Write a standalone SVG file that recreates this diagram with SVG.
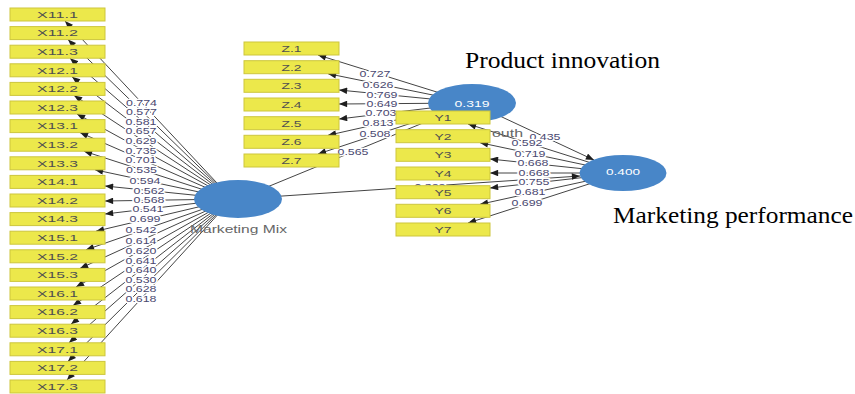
<svg xmlns="http://www.w3.org/2000/svg" width="855" height="394" viewBox="0 0 855 394">
  <style>
    .box { fill: #ece84b; stroke: #cdc63c; stroke-width: 1; }
    .bt { font-family: "Liberation Sans", Arial, sans-serif; font-size: 9px; fill: #505050; text-anchor: middle; }
    .ln { stroke: #444; stroke-width: 1; fill: none; }
    .cf { font-family: "Liberation Sans", Arial, sans-serif; font-size: 9px; fill: #4a4870; text-anchor: middle; stroke: #fff; stroke-width: 2.6; paint-order: stroke; stroke-linejoin: round; }
    .lv { fill: #4886c8; }
    .lvt { font-family: "Liberation Sans", Arial, sans-serif; font-size: 9.5px; fill: #fff; text-anchor: middle; }
    .lvn { font-family: "Liberation Sans", Arial, sans-serif; font-size: 10px; fill: #666; }
    .ttl { font-family: "Liberation Serif", "Times New Roman", serif; font-size: 23px; fill: #000; }
  </style>
  <defs>
    <marker id="ah" viewBox="0 0 10 8" refX="10" refY="4" markerWidth="9" markerHeight="6.5" markerUnits="userSpaceOnUse" orient="auto">
      <path d="M0,0 L10,4 L0,8 z" fill="#1e1e1e"/>
    </marker>
  </defs>

  <!-- connectors: outer loadings and structural paths -->
  <g id="connectors">
    <g marker-end="url(#ah)" class="ln">
      <!-- Marketing Mix -> X indicators -->
      <line x1="232" y1="199" x2="65" y2="21"/>
      <line x1="232" y1="199" x2="68" y2="39.6"/>
      <line x1="232" y1="199" x2="70" y2="58.2"/>
      <line x1="232" y1="199" x2="72" y2="76.8"/>
      <line x1="232" y1="199" x2="74" y2="95.4"/>
      <line x1="232" y1="199" x2="77" y2="114"/>
      <line x1="232" y1="199" x2="80" y2="132.6"/>
      <line x1="232" y1="199" x2="84" y2="151.2"/>
      <line x1="232" y1="199" x2="95" y2="169.8"/>
      <line x1="232" y1="199" x2="105" y2="186"/>
      <line x1="232" y1="199" x2="105" y2="201"/>
      <line x1="232" y1="199" x2="105" y2="214"/>
      <line x1="232" y1="199" x2="96" y2="231.2"/>
      <line x1="232" y1="199" x2="86" y2="249.8"/>
      <line x1="232" y1="199" x2="80" y2="268.4"/>
      <line x1="232" y1="199" x2="76" y2="287"/>
      <line x1="232" y1="199" x2="73" y2="305.6"/>
      <line x1="232" y1="199" x2="71" y2="324.2"/>
      <line x1="232" y1="199" x2="69" y2="342.8"/>
      <line x1="232" y1="199" x2="68" y2="361.4"/>
      <line x1="232" y1="199" x2="67" y2="380"/>
      <!-- Product innovation -> Z indicators -->
      <line x1="472" y1="103" x2="318" y2="55"/>
      <line x1="472" y1="103" x2="328" y2="73.7"/>
      <line x1="472" y1="103" x2="339" y2="90"/>
      <line x1="472" y1="103" x2="339" y2="104"/>
      <line x1="472" y1="103" x2="339" y2="119"/>
      <line x1="472" y1="103" x2="328" y2="135.3"/>
      <line x1="472" y1="103" x2="318" y2="154"/>
      <!-- Marketing performance -> Y indicators -->
      <line x1="623" y1="173" x2="468" y2="124"/>
      <line x1="623" y1="173" x2="480" y2="142.7"/>
      <line x1="623" y1="173" x2="490" y2="159"/>
      <line x1="623" y1="173" x2="490" y2="173"/>
      <line x1="623" y1="173" x2="490" y2="188"/>
      <line x1="623" y1="173" x2="480" y2="204.3"/>
      <line x1="623" y1="173" x2="468" y2="223"/>
      <!-- structural paths -->
      <line x1="238" y1="199" x2="440" y2="116"/>
      <line x1="238" y1="199" x2="580" y2="176"/>
      <line x1="472" y1="103" x2="594" y2="160"/>
    </g>

    <!-- loading / path coefficients -->
    <g class="cf">
      <text x="141.5" y="106.2" textLength="31" lengthAdjust="spacingAndGlyphs">0.774</text>
      <text x="141.5" y="115.2" textLength="31" lengthAdjust="spacingAndGlyphs">0.577</text>
      <text x="141" y="125.2" textLength="31" lengthAdjust="spacingAndGlyphs">0.581</text>
      <text x="141" y="134.2" textLength="31" lengthAdjust="spacingAndGlyphs">0.657</text>
      <text x="141" y="143.7" textLength="31" lengthAdjust="spacingAndGlyphs">0.629</text>
      <text x="141" y="153.7" textLength="31" lengthAdjust="spacingAndGlyphs">0.735</text>
      <text x="141" y="163.2" textLength="31" lengthAdjust="spacingAndGlyphs">0.701</text>
      <text x="141.5" y="173.2" textLength="31" lengthAdjust="spacingAndGlyphs">0.535</text>
      <text x="145" y="183.7" textLength="31" lengthAdjust="spacingAndGlyphs">0.594</text>
      <text x="149" y="193.7" textLength="31" lengthAdjust="spacingAndGlyphs">0.562</text>
      <text x="149" y="203.2" textLength="31" lengthAdjust="spacingAndGlyphs">0.568</text>
      <text x="148" y="212.2" textLength="31" lengthAdjust="spacingAndGlyphs">0.541</text>
      <text x="145" y="222.2" textLength="31" lengthAdjust="spacingAndGlyphs">0.699</text>
      <text x="141" y="233.2" textLength="31" lengthAdjust="spacingAndGlyphs">0.542</text>
      <text x="141" y="244.2" textLength="31" lengthAdjust="spacingAndGlyphs">0.614</text>
      <text x="141" y="254.2" textLength="31" lengthAdjust="spacingAndGlyphs">0.620</text>
      <text x="141" y="263.7" textLength="31" lengthAdjust="spacingAndGlyphs">0.641</text>
      <text x="141" y="273.2" textLength="31" lengthAdjust="spacingAndGlyphs">0.640</text>
      <text x="141" y="283.2" textLength="31" lengthAdjust="spacingAndGlyphs">0.530</text>
      <text x="141" y="292.2" textLength="31" lengthAdjust="spacingAndGlyphs">0.628</text>
      <text x="141" y="302.2" textLength="31" lengthAdjust="spacingAndGlyphs">0.618</text>

      <text x="375" y="77.2" textLength="31" lengthAdjust="spacingAndGlyphs">0.727</text>
      <text x="378" y="88.2" textLength="31" lengthAdjust="spacingAndGlyphs">0.626</text>
      <text x="382" y="98.2" textLength="31" lengthAdjust="spacingAndGlyphs">0.769</text>
      <text x="382" y="107.2" textLength="31" lengthAdjust="spacingAndGlyphs">0.649</text>
      <text x="381" y="116.2" textLength="31" lengthAdjust="spacingAndGlyphs">0.703</text>
      <text x="378" y="126.2" textLength="31" lengthAdjust="spacingAndGlyphs">0.813</text>
      <text x="375" y="137.2" textLength="31" lengthAdjust="spacingAndGlyphs">0.508</text>
      <text x="353" y="155.2" textLength="31" lengthAdjust="spacingAndGlyphs">0.565</text>
      <text x="430" y="190.2" textLength="31" lengthAdjust="spacingAndGlyphs">0.322</text>

      <text x="545" y="140.2" textLength="31" lengthAdjust="spacingAndGlyphs">0.435</text>
      <text x="527" y="146.2" textLength="31" lengthAdjust="spacingAndGlyphs">0.592</text>
      <text x="530" y="157.2" textLength="31" lengthAdjust="spacingAndGlyphs">0.719</text>
      <text x="533" y="166.2" textLength="31" lengthAdjust="spacingAndGlyphs">0.668</text>
      <text x="534" y="176.2" textLength="31" lengthAdjust="spacingAndGlyphs">0.668</text>
      <text x="534" y="185.2" textLength="31" lengthAdjust="spacingAndGlyphs">0.755</text>
      <text x="530" y="195.2" textLength="31" lengthAdjust="spacingAndGlyphs">0.681</text>
      <text x="527" y="206.2" textLength="31" lengthAdjust="spacingAndGlyphs">0.699</text>
    </g>
  </g>

  <!-- latent variables -->
  <g id="marketing-mix">
    <ellipse class="lv" cx="238" cy="199" rx="44" ry="19"/>
    <text class="lvn" x="238.5" y="232.5" text-anchor="middle" textLength="97" lengthAdjust="spacingAndGlyphs">Marketing Mix</text>
  </g>
  <g id="product-innovation">
    <ellipse class="lv" cx="472" cy="103" rx="44" ry="19"/>
    <text class="lvt" x="472" y="106.5" textLength="35" lengthAdjust="spacingAndGlyphs">0.319</text>
    <text class="lvn" x="492" y="136.5" textLength="31" lengthAdjust="spacingAndGlyphs">outh</text>
  </g>
  <g id="marketing-performance">
    <ellipse class="lv" cx="623" cy="173" rx="43.5" ry="18"/>
    <text class="lvt" x="623" y="174.5" textLength="34" lengthAdjust="spacingAndGlyphs">0.400</text>
  </g>

  <!-- indicators of Marketing Mix -->
  <g id="x-indicators">
    <g id="X11.1"><rect class="box" x="10" y="8" width="95" height="13"/><text class="bt" x="57.5" y="17.8" textLength="41" lengthAdjust="spacingAndGlyphs">X11.1</text></g>
    <g id="X11.2"><rect class="box" x="10" y="26.6" width="95" height="13"/><text class="bt" x="57.5" y="36.4" textLength="41" lengthAdjust="spacingAndGlyphs">X11.2</text></g>
    <g id="X11.3"><rect class="box" x="10" y="45.2" width="95" height="13"/><text class="bt" x="57.5" y="55" textLength="41" lengthAdjust="spacingAndGlyphs">X11.3</text></g>
    <g id="X12.1"><rect class="box" x="10" y="63.8" width="95" height="13"/><text class="bt" x="57.5" y="73.6" textLength="41" lengthAdjust="spacingAndGlyphs">X12.1</text></g>
    <g id="X12.2"><rect class="box" x="10" y="82.4" width="95" height="13"/><text class="bt" x="57.5" y="92.2" textLength="41" lengthAdjust="spacingAndGlyphs">X12.2</text></g>
    <g id="X12.3"><rect class="box" x="10" y="101" width="95" height="13"/><text class="bt" x="57.5" y="110.8" textLength="41" lengthAdjust="spacingAndGlyphs">X12.3</text></g>
    <g id="X13.1"><rect class="box" x="10" y="119.6" width="95" height="13"/><text class="bt" x="57.5" y="129.4" textLength="41" lengthAdjust="spacingAndGlyphs">X13.1</text></g>
    <g id="X13.2"><rect class="box" x="10" y="138.2" width="95" height="13"/><text class="bt" x="57.5" y="148" textLength="41" lengthAdjust="spacingAndGlyphs">X13.2</text></g>
    <g id="X13.3"><rect class="box" x="10" y="156.8" width="95" height="13"/><text class="bt" x="57.5" y="166.6" textLength="41" lengthAdjust="spacingAndGlyphs">X13.3</text></g>
    <g id="X14.1"><rect class="box" x="10" y="175.4" width="95" height="13"/><text class="bt" x="57.5" y="185.2" textLength="41" lengthAdjust="spacingAndGlyphs">X14.1</text></g>
    <g id="X14.2"><rect class="box" x="10" y="194" width="95" height="13"/><text class="bt" x="57.5" y="203.8" textLength="41" lengthAdjust="spacingAndGlyphs">X14.2</text></g>
    <g id="X14.3"><rect class="box" x="10" y="212.6" width="95" height="13"/><text class="bt" x="57.5" y="222.4" textLength="41" lengthAdjust="spacingAndGlyphs">X14.3</text></g>
    <g id="X15.1"><rect class="box" x="10" y="231.2" width="95" height="13"/><text class="bt" x="57.5" y="241" textLength="41" lengthAdjust="spacingAndGlyphs">X15.1</text></g>
    <g id="X15.2"><rect class="box" x="10" y="249.8" width="95" height="13"/><text class="bt" x="57.5" y="259.6" textLength="41" lengthAdjust="spacingAndGlyphs">X15.2</text></g>
    <g id="X15.3"><rect class="box" x="10" y="268.4" width="95" height="13"/><text class="bt" x="57.5" y="278.2" textLength="41" lengthAdjust="spacingAndGlyphs">X15.3</text></g>
    <g id="X16.1"><rect class="box" x="10" y="287" width="95" height="13"/><text class="bt" x="57.5" y="296.8" textLength="41" lengthAdjust="spacingAndGlyphs">X16.1</text></g>
    <g id="X16.2"><rect class="box" x="10" y="305.6" width="95" height="13"/><text class="bt" x="57.5" y="315.4" textLength="41" lengthAdjust="spacingAndGlyphs">X16.2</text></g>
    <g id="X16.3"><rect class="box" x="10" y="324.2" width="95" height="13"/><text class="bt" x="57.5" y="334" textLength="41" lengthAdjust="spacingAndGlyphs">X16.3</text></g>
    <g id="X17.1"><rect class="box" x="10" y="342.8" width="95" height="13"/><text class="bt" x="57.5" y="352.6" textLength="41" lengthAdjust="spacingAndGlyphs">X17.1</text></g>
    <g id="X17.2"><rect class="box" x="10" y="361.4" width="95" height="13"/><text class="bt" x="57.5" y="371.2" textLength="41" lengthAdjust="spacingAndGlyphs">X17.2</text></g>
    <g id="X17.3"><rect class="box" x="10" y="380" width="95" height="13"/><text class="bt" x="57.5" y="389.8" textLength="41" lengthAdjust="spacingAndGlyphs">X17.3</text></g>
  </g>

  <!-- indicators of Product innovation -->
  <g id="z-indicators">
    <g id="Z.1"><rect class="box" x="244" y="42" width="95" height="13"/><text class="bt" x="291.5" y="51.8" textLength="20" lengthAdjust="spacingAndGlyphs">Z.1</text></g>
    <g id="Z.2"><rect class="box" x="244" y="60.7" width="95" height="13"/><text class="bt" x="291.5" y="70.5" textLength="20" lengthAdjust="spacingAndGlyphs">Z.2</text></g>
    <g id="Z.3"><rect class="box" x="244" y="79.3" width="95" height="13"/><text class="bt" x="291.5" y="89.1" textLength="20" lengthAdjust="spacingAndGlyphs">Z.3</text></g>
    <g id="Z.4"><rect class="box" x="244" y="98" width="95" height="13"/><text class="bt" x="291.5" y="107.8" textLength="20" lengthAdjust="spacingAndGlyphs">Z.4</text></g>
    <g id="Z.5"><rect class="box" x="244" y="116.7" width="95" height="13"/><text class="bt" x="291.5" y="126.5" textLength="20" lengthAdjust="spacingAndGlyphs">Z.5</text></g>
    <g id="Z.6"><rect class="box" x="244" y="135.3" width="95" height="13"/><text class="bt" x="291.5" y="145.1" textLength="20" lengthAdjust="spacingAndGlyphs">Z.6</text></g>
    <g id="Z.7"><rect class="box" x="244" y="154" width="95" height="13"/><text class="bt" x="291.5" y="163.8" textLength="20" lengthAdjust="spacingAndGlyphs">Z.7</text></g>
  </g>

  <!-- indicators of Marketing performance -->
  <g id="y-indicators">
    <g id="Y1"><rect class="box" x="396" y="111" width="94" height="13"/><text class="bt" x="443" y="120.8" textLength="17" lengthAdjust="spacingAndGlyphs">Y1</text></g>
    <g id="Y2"><rect class="box" x="396" y="129.7" width="94" height="13"/><text class="bt" x="443" y="139.5" textLength="17" lengthAdjust="spacingAndGlyphs">Y2</text></g>
    <g id="Y3"><rect class="box" x="396" y="148.3" width="94" height="13"/><text class="bt" x="443" y="158.1" textLength="17" lengthAdjust="spacingAndGlyphs">Y3</text></g>
    <g id="Y4"><rect class="box" x="396" y="167" width="94" height="13"/><text class="bt" x="443" y="176.8" textLength="17" lengthAdjust="spacingAndGlyphs">Y4</text></g>
    <g id="Y5"><rect class="box" x="396" y="185.7" width="94" height="13"/><text class="bt" x="443" y="195.5" textLength="17" lengthAdjust="spacingAndGlyphs">Y5</text></g>
    <g id="Y6"><rect class="box" x="396" y="204.3" width="94" height="13"/><text class="bt" x="443" y="214.1" textLength="17" lengthAdjust="spacingAndGlyphs">Y6</text></g>
    <g id="Y7"><rect class="box" x="396" y="223" width="94" height="13"/><text class="bt" x="443" y="232.8" textLength="17" lengthAdjust="spacingAndGlyphs">Y7</text></g>
  </g>

  <!-- construct captions -->
  <text class="ttl" x="465" y="68" textLength="195" lengthAdjust="spacingAndGlyphs">Product innovation</text>
  <text class="ttl" x="613" y="223" textLength="240" lengthAdjust="spacingAndGlyphs">Marketing performance</text>
</svg>
